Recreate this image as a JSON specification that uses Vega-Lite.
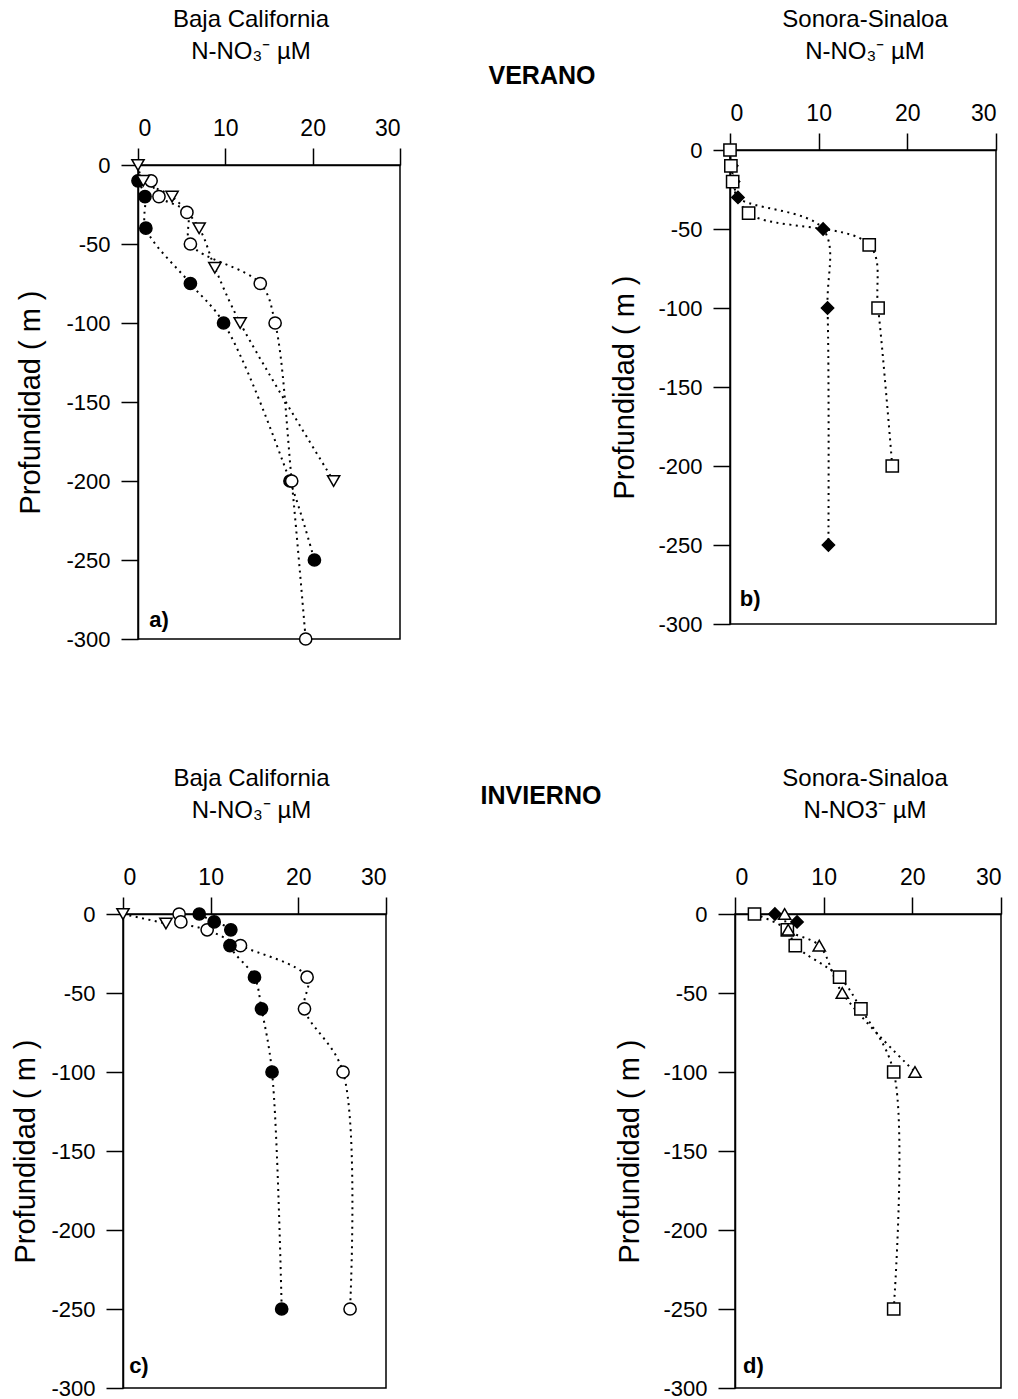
{
  "$schema": "https://vega.github.io/schema/vega-lite/v6.json",
  "background": "white",
  "padding": {"top": 1, "left": 0, "right": 0, "bottom": 0},
  "config": {
    "font": "Liberation Sans",
    "view": {"stroke": "black", "strokeWidth": 1.5},
    "axis": {
      "grid": false,
      "domainColor": "black",
      "domainWidth": 1.5,
      "tickColor": "black",
      "tickWidth": 1.5,
      "tickSize": 17,
      "labelColor": "black",
      "labelFontSize": 23,
      "labelFont": "Liberation Sans",
      "titleColor": "black",
      "titleFontSize": 29,
      "titleFontWeight": "normal",
      "titleFont": "Liberation Sans"
    },
    "axisX": {"labelPadding": 8},
    "axisY": {"labelPadding": 11, "labelFontSize": 22},
    "title": {"fontSize": 24, "fontWeight": "normal", "color": "black", "lineHeight": 32, "font": "Liberation Sans"}
  },
  "datasets": {
    "perfiles": [
      {"p": "a", "s": "lleno", "x": 0, "y": -10},
      {"p": "a", "s": "lleno", "x": 0.8, "y": -20},
      {"p": "a", "s": "lleno", "x": 0.9, "y": -40},
      {"p": "a", "s": "lleno", "x": 6, "y": -75},
      {"p": "a", "s": "lleno", "x": 9.8, "y": -100},
      {"p": "a", "s": "lleno", "x": 17.4, "y": -200},
      {"p": "a", "s": "lleno", "x": 20.2, "y": -250},
      {"p": "a", "s": "abierto", "x": 1.5, "y": -10},
      {"p": "a", "s": "abierto", "x": 2.4, "y": -20},
      {"p": "a", "s": "abierto", "x": 5.6, "y": -30},
      {"p": "a", "s": "abierto", "x": 6, "y": -50},
      {"p": "a", "s": "abierto", "x": 14, "y": -75},
      {"p": "a", "s": "abierto", "x": 15.7, "y": -100},
      {"p": "a", "s": "abierto", "x": 17.6, "y": -200},
      {"p": "a", "s": "abierto", "x": 19.2, "y": -300},
      {"p": "a", "s": "triangulo", "x": 0, "y": 0},
      {"p": "a", "s": "triangulo", "x": 0.6, "y": -10},
      {"p": "a", "s": "triangulo", "x": 3.9, "y": -20},
      {"p": "a", "s": "triangulo", "x": 7, "y": -40},
      {"p": "a", "s": "triangulo", "x": 8.8, "y": -65},
      {"p": "a", "s": "triangulo", "x": 11.7, "y": -100},
      {"p": "a", "s": "triangulo", "x": 22.4, "y": -200},
      {"p": "b", "s": "rombo", "x": 0.2, "y": -10},
      {"p": "b", "s": "rombo", "x": 0.4, "y": -20},
      {"p": "b", "s": "rombo", "x": 0.9, "y": -30},
      {"p": "b", "s": "rombo", "x": 10.5, "y": -50},
      {"p": "b", "s": "rombo", "x": 11, "y": -100},
      {"p": "b", "s": "rombo", "x": 11.1, "y": -250},
      {"p": "b", "s": "cuadro", "x": 0, "y": 0},
      {"p": "b", "s": "cuadro", "x": 0.1, "y": -10},
      {"p": "b", "s": "cuadro", "x": 0.3, "y": -20},
      {"p": "b", "s": "cuadro", "x": 2.1, "y": -40},
      {"p": "b", "s": "cuadro", "x": 15.7, "y": -60},
      {"p": "b", "s": "cuadro", "x": 16.7, "y": -100},
      {"p": "b", "s": "cuadro", "x": 18.3, "y": -200},
      {"p": "c", "s": "triangulo", "x": 0, "y": 0},
      {"p": "c", "s": "triangulo", "x": 4.9, "y": -6},
      {"p": "c", "s": "abierto", "x": 6.4, "y": 0},
      {"p": "c", "s": "abierto", "x": 6.6, "y": -5},
      {"p": "c", "s": "abierto", "x": 9.6, "y": -10},
      {"p": "c", "s": "abierto", "x": 13.4, "y": -20},
      {"p": "c", "s": "abierto", "x": 21, "y": -40},
      {"p": "c", "s": "abierto", "x": 20.7, "y": -60},
      {"p": "c", "s": "abierto", "x": 25.1, "y": -100},
      {"p": "c", "s": "abierto", "x": 25.9, "y": -250},
      {"p": "c", "s": "lleno", "x": 8.7, "y": 0},
      {"p": "c", "s": "lleno", "x": 10.4, "y": -5},
      {"p": "c", "s": "lleno", "x": 12.3, "y": -10},
      {"p": "c", "s": "lleno", "x": 12.2, "y": -20},
      {"p": "c", "s": "lleno", "x": 15, "y": -40},
      {"p": "c", "s": "lleno", "x": 15.8, "y": -60},
      {"p": "c", "s": "lleno", "x": 17, "y": -100},
      {"p": "c", "s": "lleno", "x": 18.1, "y": -250},
      {"p": "d", "s": "cuadro", "x": 2.2, "y": 0},
      {"p": "d", "s": "cuadro", "x": 5.9, "y": -10},
      {"p": "d", "s": "cuadro", "x": 6.8, "y": -20},
      {"p": "d", "s": "cuadro", "x": 11.8, "y": -40},
      {"p": "d", "s": "cuadro", "x": 14.2, "y": -60},
      {"p": "d", "s": "cuadro", "x": 17.9, "y": -100},
      {"p": "d", "s": "cuadro", "x": 17.9, "y": -250},
      {"p": "d", "s": "triangulo_up", "x": 5.6, "y": 0},
      {"p": "d", "s": "triangulo_up", "x": 6.0, "y": -10},
      {"p": "d", "s": "triangulo_up", "x": 9.5, "y": -20},
      {"p": "d", "s": "triangulo_up", "x": 12.1, "y": -50},
      {"p": "d", "s": "triangulo_up", "x": 20.3, "y": -100},
      {"p": "d", "s": "rombo", "x": 4.5, "y": 0},
      {"p": "d", "s": "rombo", "x": 7, "y": -5}
    ]
  },
  "spacing": 115,
  "vconcat": [
    {
      "spacing": 13,
      "hconcat": [
        {
          "spacing": 85,
          "hconcat": [
            {
              "spacing": 15,
              "hconcat": [
                {"width": 1, "height": 1, "view": {"stroke": null}, "data": {"values": [{}]}, "mark": {"type": "point", "size": 0, "opacity": 0}},
                {
                  "spacing": 5,
                  "vconcat": [
                    {"width": 1, "height": 1, "view": {"stroke": null}, "data": {"values": [{}]}, "mark": {"type": "point", "size": 0, "opacity": 0}},
                    {
                      "width": 262, "height": 474,
                      "title": {"text": ["Baja California", "N-NO₃⁻  µM"], "offset": 53, "dx": -18},
                      "data": {"name": "perfiles"},
                      "layer": [
                        {"transform": [{"filter": "datum.p === 'a'"}], "mark": {"type": "line", "color": "black", "strokeWidth": 2, "strokeDash": [2, 4.5], "interpolate": "catmull-rom"},
                         "encoding": {
                           "x": {"field": "x", "type": "quantitative", "scale": {"domain": [0, 30], "nice": false, "zero": false}, "axis": {"orient": "top", "values": [0, 10, 20, 30], "title": null}},
                           "y": {"field": "y", "type": "quantitative", "scale": {"domain": [-300, 0], "nice": false}, "axis": {"values": [-300, -250, -200, -150, -100, -50, 0], "title": "Profundidad ( m )", "titlePadding": 20, "labelExpr": "replace(datum.label, '−', '-')"}},
                           "detail": {"field": "s"}, "order": {"field": "y", "sort": "descending"}}},
                        {"transform": [{"filter": "datum.p === 'a'"}], "mark": {"type": "point", "filled": true, "stroke": "black", "strokeWidth": 1.5, "size": 150, "opacity": 1},
                         "encoding": {
                           "x": {"field": "x", "type": "quantitative", "scale": {"domain": [0, 30], "nice": false, "zero": false}},
                           "y": {"field": "y", "type": "quantitative", "scale": {"domain": [-300, 0], "nice": false}},
                           "shape": {"field": "s", "type": "nominal", "scale": {"domain": ["lleno", "abierto", "triangulo", "cuadro", "rombo", "triangulo_up"], "range": ["circle", "circle", "triangle-down", "square", "diamond", "triangle-up"]}, "legend": null},
                           "fill": {"field": "s", "type": "nominal", "scale": {"domain": ["lleno", "abierto", "triangulo", "cuadro", "rombo", "triangulo_up"], "range": ["black", "white", "white", "white", "black", "white"]}, "legend": null}
                         }},
                        {"data": {"values": [{"etiqueta": "a)"}]}, "mark": {"type": "text", "fontSize": 22, "fontWeight": "bold", "align": "left", "baseline": "middle", "color": "black"}, "encoding": {"x": {"datum": 1.3}, "y": {"datum": -288}, "text": {"field": "etiqueta"}}}
                      ]
                    }
                  ]
                }
              ]
            },
            {
              "width": 110, "height": 150, "view": {"stroke": null},
              "data": {"values": [{"etiqueta": "VERANO"}]},
              "mark": {"type": "text", "fontSize": 25, "fontWeight": "bold", "align": "center", "baseline": "middle", "color": "black"},
              "encoding": {"text": {"field": "etiqueta"}}
            }
          ]
        },
        {
          "spacing": 5,
          "vconcat": [
            {"width": 1, "height": 1, "view": {"stroke": null}, "data": {"values": [{}]}, "mark": {"type": "point", "size": 0, "opacity": 0}},
            {
              "width": 266, "height": 474,
              "title": {"text": ["Sonora-Sinaloa", "N-NO₃⁻  µM"], "offset": 38, "dx": 2},
              "data": {"name": "perfiles"},
              "layer": [
                {"transform": [{"filter": "datum.p === 'b'"}], "mark": {"type": "line", "color": "black", "strokeWidth": 2, "strokeDash": [2, 4.5], "interpolate": "catmull-rom"},
                 "encoding": {
                   "x": {"field": "x", "type": "quantitative", "scale": {"domain": [0, 30], "nice": false, "zero": false}, "axis": {"orient": "top", "values": [0, 10, 20, 30], "title": null}},
                   "y": {"field": "y", "type": "quantitative", "scale": {"domain": [-300, 0], "nice": false}, "axis": {"values": [-300, -250, -200, -150, -100, -50, 0], "title": "Profundidad ( m )", "titlePadding": 18, "labelExpr": "replace(datum.label, '−', '-')"}},
                   "detail": {"field": "s"}, "order": {"field": "y", "sort": "descending"}}},
                {"transform": [{"filter": "datum.p === 'b'"}], "mark": {"type": "point", "filled": true, "stroke": "black", "strokeWidth": 1.5, "size": 150, "opacity": 1},
                 "encoding": {
                   "x": {"field": "x", "type": "quantitative", "scale": {"domain": [0, 30], "nice": false, "zero": false}},
                   "y": {"field": "y", "type": "quantitative", "scale": {"domain": [-300, 0], "nice": false}},
                   "shape": {"field": "s", "type": "nominal", "scale": {"domain": ["lleno", "abierto", "triangulo", "cuadro", "rombo", "triangulo_up"], "range": ["circle", "circle", "triangle-down", "square", "diamond", "triangle-up"]}, "legend": null},
                   "fill": {"field": "s", "type": "nominal", "scale": {"domain": ["lleno", "abierto", "triangulo", "cuadro", "rombo", "triangulo_up"], "range": ["black", "white", "white", "white", "black", "white"]}, "legend": null}
                 }},
                {"data": {"values": [{"etiqueta": "b)"}]}, "mark": {"type": "text", "fontSize": 22, "fontWeight": "bold", "align": "left", "baseline": "middle", "color": "black"}, "encoding": {"x": {"datum": 1.1}, "y": {"datum": -284}, "text": {"field": "etiqueta"}}}
              ]
            }
          ]
        }
      ]
    },
    {
      "spacing": 13,
      "hconcat": [
        {
          "spacing": 92,
          "hconcat": [
            {
              "spacing": 10,
              "hconcat": [
                {"width": 1, "height": 1, "view": {"stroke": null}, "data": {"values": [{}]}, "mark": {"type": "point", "size": 0, "opacity": 0}},
                {
                  "width": 263, "height": 474,
                  "title": {"text": ["Baja California", "N-NO₃⁻  µM"], "offset": 43, "dx": -3},
                  "data": {"name": "perfiles"},
                  "layer": [
                    {"transform": [{"filter": "datum.p === 'c'"}], "mark": {"type": "line", "color": "black", "strokeWidth": 2, "strokeDash": [2, 4.5], "interpolate": "catmull-rom"},
                     "encoding": {
                       "x": {"field": "x", "type": "quantitative", "scale": {"domain": [0, 30], "nice": false, "zero": false}, "axis": {"orient": "top", "values": [0, 10, 20, 30], "title": null}},
                       "y": {"field": "y", "type": "quantitative", "scale": {"domain": [-300, 0], "nice": false}, "axis": {"values": [-300, -250, -200, -150, -100, -50, 0], "title": "Profundidad ( m )", "titlePadding": 10, "labelExpr": "replace(datum.label, '−', '-')"}},
                       "detail": {"field": "s"}, "order": {"field": "y", "sort": "descending"}}},
                    {"transform": [{"filter": "datum.p === 'c'"}], "mark": {"type": "point", "filled": true, "stroke": "black", "strokeWidth": 1.5, "size": 150, "opacity": 1},
                     "encoding": {
                       "x": {"field": "x", "type": "quantitative", "scale": {"domain": [0, 30], "nice": false, "zero": false}},
                       "y": {"field": "y", "type": "quantitative", "scale": {"domain": [-300, 0], "nice": false}},
                       "shape": {"field": "s", "type": "nominal", "scale": {"domain": ["lleno", "abierto", "triangulo", "cuadro", "rombo", "triangulo_up"], "range": ["circle", "circle", "triangle-down", "square", "diamond", "triangle-up"]}, "legend": null},
                       "fill": {"field": "s", "type": "nominal", "scale": {"domain": ["lleno", "abierto", "triangulo", "cuadro", "rombo", "triangulo_up"], "range": ["black", "white", "white", "white", "black", "white"]}, "legend": null}
                     }},
                    {"data": {"values": [{"etiqueta": "c)"}]}, "mark": {"type": "text", "fontSize": 22, "fontWeight": "bold", "align": "left", "baseline": "middle", "color": "black"}, "encoding": {"x": {"datum": 0.7}, "y": {"datum": -286}, "text": {"field": "etiqueta"}}}
                  ]
                }
              ]
            },
            {
              "width": 120, "height": 1, "view": {"stroke": null},
              "title": {"text": "INVIERNO", "fontSize": 25, "fontWeight": "bold", "offset": 105},
              "data": {"values": [{}]},
              "mark": {"type": "point", "size": 0, "opacity": 0}
            }
          ]
        },
        {
          "width": 266, "height": 474,
          "title": {"text": ["Sonora-Sinaloa", "N-NO3⁻  µM"], "offset": 43, "dx": -3},
          "data": {"name": "perfiles"},
          "layer": [
            {"transform": [{"filter": "datum.p === 'd'"}], "mark": {"type": "line", "color": "black", "strokeWidth": 2, "strokeDash": [2, 4.5], "interpolate": "catmull-rom"},
             "encoding": {
               "x": {"field": "x", "type": "quantitative", "scale": {"domain": [0, 30], "nice": false, "zero": false}, "axis": {"orient": "top", "values": [0, 10, 20, 30], "title": null}},
               "y": {"field": "y", "type": "quantitative", "scale": {"domain": [-300, 0], "nice": false}, "axis": {"values": [-300, -250, -200, -150, -100, -50, 0], "title": "Profundidad ( m )", "titlePadding": 18, "labelExpr": "replace(datum.label, '−', '-')"}},
               "detail": {"field": "s"}, "order": {"field": "y", "sort": "descending"}}},
            {"transform": [{"filter": "datum.p === 'd'"}], "mark": {"type": "point", "filled": true, "stroke": "black", "strokeWidth": 1.5, "size": 150, "opacity": 1},
             "encoding": {
               "x": {"field": "x", "type": "quantitative", "scale": {"domain": [0, 30], "nice": false, "zero": false}},
               "y": {"field": "y", "type": "quantitative", "scale": {"domain": [-300, 0], "nice": false}},
               "shape": {"field": "s", "type": "nominal", "scale": {"domain": ["lleno", "abierto", "triangulo", "cuadro", "rombo", "triangulo_up"], "range": ["circle", "circle", "triangle-down", "square", "diamond", "triangle-up"]}, "legend": null},
               "fill": {"field": "s", "type": "nominal", "scale": {"domain": ["lleno", "abierto", "triangulo", "cuadro", "rombo", "triangulo_up"], "range": ["black", "white", "white", "white", "black", "white"]}, "legend": null}
             }},
            {"data": {"values": [{"etiqueta": "d)"}]}, "mark": {"type": "text", "fontSize": 22, "fontWeight": "bold", "align": "left", "baseline": "middle", "color": "black"}, "encoding": {"x": {"datum": 0.9}, "y": {"datum": -286}, "text": {"field": "etiqueta"}}}
          ]
        }
      ]
    }
  ]
}
